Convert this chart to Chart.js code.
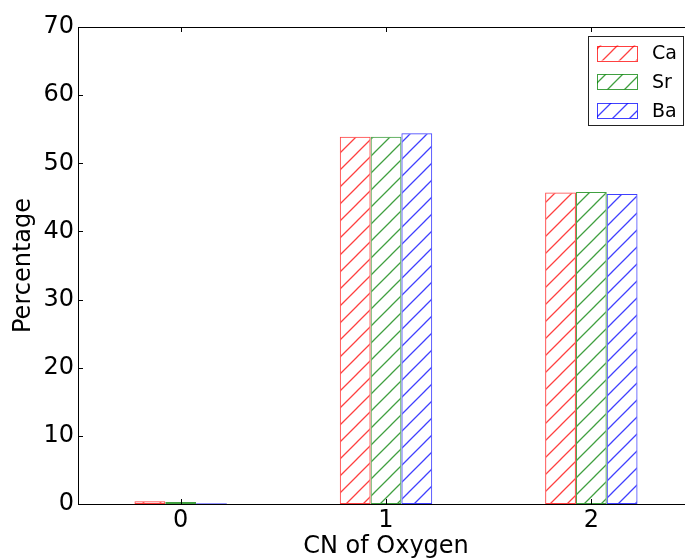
<!DOCTYPE html>
<html>
<head>
<meta charset="utf-8">
<script src="https://cdn.jsdelivr.net/npm/chart.js@4"></script>
<style>
  html, body { margin: 0; padding: 0; background: #fff; overflow: hidden; }
  #wrap { width: 685px; height: 559px; overflow: hidden; }
</style>
</head>
<body>
<div id="wrap"><canvas id="cnChart" width="700" height="559"></canvas></div>
<script>
// data
var categories = ['0', '1', '2'];
var seriesNames = ['Ca', 'Sr', 'Ba'];
var caValues = [0.4, 53.9, 45.7];
var srValues = [0.3, 53.9, 45.8];
var baValues = [0.1, 54.4, 45.5];
var yTicks = [0, 10, 20, 30, 40, 50, 60, 70];

var seriesColors = ['rgba(255, 0, 0, 0.75)', 'rgba(0, 128, 0, 0.75)', 'rgba(0, 0, 255, 0.75)'];

var canvas = document.getElementById('cnChart');
var ctx = canvas.getContext('2d');

// diagonal "/" hatch like matplotlib
function hatch(color) {
    var s = 17;
    var c = document.createElement('canvas');
    c.width = s; c.height = s;
    var g = c.getContext('2d');
    g.strokeStyle = color;
    g.lineWidth = 1.3;
    g.beginPath();
    g.moveTo(0, s); g.lineTo(s, 0);
    g.moveTo(-2, 2); g.lineTo(2, -2);
    g.moveTo(s - 2, s + 2); g.lineTo(s + 2, s - 2);
    g.stroke();
    return ctx.createPattern(c, 'repeat');
}

var font = '"DejaVu Sans", sans-serif';

// spines, inward ticks, legend box
var framePlugin = {
    id: 'frame',
    afterDraw: function(chart) {
        var a = chart.chartArea;
        var x = chart.scales.x, y = chart.scales.y;
        var c = chart.ctx;
        c.save();
        c.strokeStyle = '#000';
        c.lineWidth = 1;
        c.strokeRect(a.left + 0.5, a.top + 0.5, a.right - a.left, a.bottom - a.top);
        c.beginPath();
        yTicks.forEach(function(v) {
            var py = Math.round(y.getPixelForValue(v)) + 0.5;
            c.moveTo(a.left, py); c.lineTo(a.left + 5, py);
            c.moveTo(a.right, py); c.lineTo(a.right - 5, py);
        });
        categories.forEach(function(cat, i) {
            var px = Math.round(x.getPixelForTick(i)) + 0.5;
            c.moveTo(px, a.bottom); c.lineTo(px, a.bottom - 5);
            c.moveTo(px, a.top); c.lineTo(px, a.top + 5);
        });
        c.stroke();

        // legend
        var lx = 588, ly = 36, lw = 95, lh = 89;
        c.fillStyle = '#fff';
        c.fillRect(lx, ly, lw, lh);
        c.strokeStyle = '#222';
        c.strokeRect(lx + 0.5, ly + 0.5, lw, lh);
        chart.data.datasets.forEach(function(ds, i) {
            var cy = 53 + i * 28.8;
            c.fillStyle = ds.backgroundColor;
            c.fillRect(597, cy - 7.5, 40, 15);
            c.strokeStyle = ds.borderColor;
            c.strokeRect(597.5, Math.round(cy - 7.5) + 0.5, 40, 15);
            c.fillStyle = '#000';
            c.font = '19px ' + font;
            c.textBaseline = 'middle';
            c.textAlign = 'left';
            c.fillText(ds.label, 652, cy + 1);
        });
        c.restore();
    }
};

var valueLists = [caValues, srValues, baValues];

new Chart(ctx, {
    type: 'bar',
    data: {
        labels: categories,
        datasets: seriesNames.map(function(name, i) {
            return {
                label: name,
                data: valueLists[i],
                backgroundColor: hatch(seriesColors[i]),
                borderColor: seriesColors[i],
                borderWidth: 1,
                borderSkipped: false
            };
        })
    },
    options: {
        responsive: false,
        animation: false,
        devicePixelRatio: 1,
        categoryPercentage: 0.45,
        barPercentage: 1,
        layout: { padding: { left: 0, top: 27, right: 6, bottom: 0 } },
        plugins: {
            legend: { display: false },
            tooltip: { enabled: false }
        },
        scales: {
            x: {
                grid: { display: false, drawTicks: false },
                border: { display: false },
                ticks: { color: '#000', font: { family: font, size: 24 }, padding: 2 },
                title: {
                    display: true,
                    text: 'CN of Oxygen',
                    color: '#000',
                    font: { family: font, size: 24 },
                    padding: { top: 0, bottom: -2 }
                },
                afterFit: function(scale) { scale.height = 55; }
            },
            y: {
                min: 0,
                max: 70,
                afterBuildTicks: function(scale) {
                    scale.ticks = yTicks.map(function(v) { return { value: v }; });
                },
                grid: { display: false, drawTicks: false },
                border: { display: false },
                ticks: { color: '#000', font: { family: font, size: 24 }, padding: 4 },
                title: {
                    display: true,
                    text: 'Percentage',
                    color: '#000',
                    font: { family: font, size: 24 },
                    padding: { top: 9, bottom: 0 }
                },
                afterFit: function(scale) { scale.width = 78; }
            }
        }
    },
    plugins: [framePlugin]
});
</script>
</body>
</html>
